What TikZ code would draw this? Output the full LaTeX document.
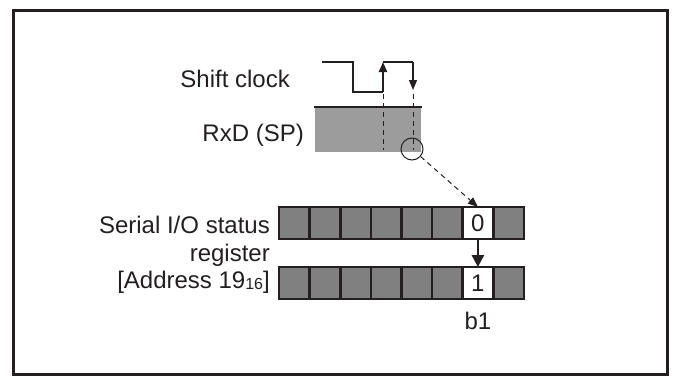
\documentclass[tikz,border=0pt]{standalone}
\usepackage{fontspec}
\setmainfont{Liberation Sans}
\usepackage{tikz}
\usetikzlibrary{arrows.meta, positioning, calc}
\definecolor{inkgray}{RGB}{35,31,32}
\definecolor{regfill}{RGB}{128,128,128}
\definecolor{rxdfill}{RGB}{156,156,156}

\begin{document}
\begin{tikzpicture}[
    x=1pt, y=-1pt,
    lbl/.style={font=\fontsize{24}{27.5}\selectfont, text=inkgray, inner sep=0pt},
    bitcell/.style={draw=inkgray, line width=2.6pt, fill=regfill,
        minimum width=30.6pt, minimum height=32pt, inner sep=0pt, outer sep=0pt,
        font=\fontsize{24}{24}\selectfont, text=inkgray},
    wave/.style={draw=inkgray, line width=1.3pt},
    tip/.style={-{Triangle[length=10pt, width=8pt]}},
    bigtip/.style={-{Triangle[length=12pt, width=12pt]}}
]
\useasboundingbox (0,0) rectangle (676,381);
\draw[line width=3pt, inkgray] (13.5,10) rectangle (667,374);

% labels
\node[lbl, anchor=east] (clklbl) at (290,79) {Shift clock};
\node[lbl, anchor=east] (rxdlbl) at (304,135) {RxD (SP)};
\node[lbl, anchor=east, align=right] (reglbl) at (270,255)
    {Serial I/O status\\register\\{}[Address 19\raisebox{-1pt}{\fontsize{16}{16}\selectfont 16}]};

% shift clock
\coordinate (clkstart) at (322,62);
\coordinate (rise) at (383,62);
\coordinate (fall) at (413,62);
\draw[wave] (clkstart) -| (353,92) -- (383,92);
\draw[wave, line width=2pt, tip] (383,92) -- (rise);
\draw[wave] (rise) -- (fall);
\draw[wave, tip] (fall) -- (413,90);

% RxD data
\node[fill=rxdfill, minimum width=106pt, minimum height=45pt, inner sep=0pt,
    anchor=north west] (rxd) at (315,107) {};
\draw[line width=2.5pt, inkgray] ($(rxd.north west)+(-1,0)$) -- ($(rxd.north east)+(1,0)$);
\draw[inkgray, line width=1pt, dash pattern=on 5pt off 4pt] (383,94) -- (383,150);
\draw[inkgray, line width=1pt, dash pattern=on 5pt off 4pt] (413,94) -- (413,150);
\node[circle, draw=inkgray, line width=1pt, minimum size=22pt, inner sep=0pt] (probe) at (412,149) {};

% status register before / after
\foreach \b in {7,6,5,4,3,2,0} {
    \node[bitcell] (top\b) at ({294.3+30.6*(7-\b)},223) {};
    \node[bitcell] (bot\b) at ({294.3+30.6*(7-\b)},283) {};
}
\node[bitcell, fill=white] (top1) at ({294.3+30.6*6},223) {0};
\node[bitcell, fill=white] (bot1) at ({294.3+30.6*6},283) {1};
\node[lbl, below=13pt of bot1] (bitname) {b1};

\draw[inkgray, line width=1pt, dash pattern=on 5pt off 4pt, tip] (probe) -- (top1.north);
\draw[inkgray, line width=2.6pt, bigtip] (top1.south) -- (bot1.north);
\end{tikzpicture}
\end{document}
